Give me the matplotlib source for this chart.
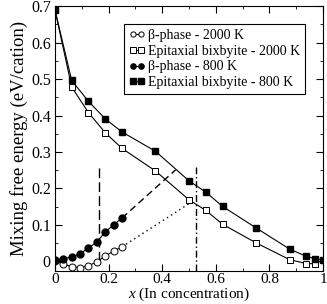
import matplotlib
matplotlib.use("Agg")
import matplotlib.pyplot as plt
from matplotlib.ticker import MultipleLocator

plt.rcParams['font.family'] = ['Liberation Serif', 'DejaVu Serif']
plt.rcParams['mathtext.fontset'] = 'custom'
plt.rcParams['mathtext.it'] = 'Liberation Serif:italic'
plt.rcParams['mathtext.rm'] = 'Liberation Serif'

# beta-phase, 2000 K (open circles)
x_beta = [0, 0.03125, 0.0625, 0.09375, 0.125, 0.15625, 0.1875, 0.21875, 0.25]
e_beta_2000 = [0.0, -0.006, -0.015, -0.017, -0.012, -0.001, 0.015, 0.028, 0.040]
# beta-phase, 800 K (filled circles)
e_beta_800 = [0.003, 0.008, 0.012, 0.021, 0.037, 0.053, 0.081, 0.100, 0.119]

# epitaxial bixbyite
x_bix = [0, 0.0625, 0.125, 0.1875, 0.25, 0.375, 0.5, 0.5625, 0.625, 0.75,
         0.875, 0.9375, 0.96875, 1.0]
e_bix_2000 = [0.69, 0.478, 0.408, 0.353, 0.310, 0.248, 0.169, 0.140, 0.102,
              0.051, 0.005, -0.006, -0.006, 0.004]
e_bix_800 = [0.69, 0.496, 0.439, 0.391, 0.355, 0.302, 0.221, 0.190, 0.151,
             0.092, 0.034, 0.014, 0.008, 0.004]

# common-tangent construction lines
tan_800_x = [0.25, 0.45]
tan_800_y = [0.119, 0.251]
tan_2000_x = [0.25, 0.51]
tan_2000_y = [0.040, 0.163]
vline_800 = 0.165
vline_2000 = 0.526
vline_top = 0.258

fig = plt.figure(figsize=(3.27, 3.04), dpi=100)
ax = fig.add_axes([0.168, 0.11, 0.820, 0.87])

ax.plot(tan_800_x, tan_800_y, color='black', lw=1, ls=(0, (5, 3)))
ax.plot(tan_2000_x, tan_2000_y, color='black', lw=1, ls=(0, (1, 2.5)))
ax.plot([vline_800, vline_800], [0, vline_top], color='black', lw=1,
        ls=(0, (7, 3)))
ax.plot([vline_2000, vline_2000], [-0.025, vline_top], color='black', lw=1,
        ls=(0, (5, 2, 1, 2)))

ms = 5
ax.plot(x_beta, e_beta_2000, color='black', lw=0.8, marker='o', ms=ms,
        mfc='white', mec='black', mew=0.7, label='\u03b2-phase - 2000 K')
ax.plot(x_bix, e_bix_2000, color='black', lw=0.8, marker='s', ms=ms,
        mfc='white', mec='black', mew=0.7, label='Epitaxial bixbyite - 2000 K')
ax.plot(x_beta, e_beta_800, color='black', lw=0.8, marker='o', ms=ms,
        mfc='black', mec='black', label='\u03b2-phase - 800 K')
ax.plot(x_bix, e_bix_800, color='black', lw=0.8, marker='s', ms=ms,
        mfc='black', mec='black', label='Epitaxial bixbyite - 800 K')

ax.set_xlim(0, 1)
ax.set_ylim(-0.025, 0.7)
ax.xaxis.set_minor_locator(MultipleLocator(0.1))
ax.yaxis.set_minor_locator(MultipleLocator(0.05))
ax.set_xticks([0, 0.2, 0.4, 0.6, 0.8, 1.0])
ax.set_xticklabels(['0', '0.2', '0.4', '0.6', '0.8', '1'])
ax.set_yticks([0, 0.1, 0.2, 0.3, 0.4, 0.5, 0.6, 0.7])
ax.set_yticklabels(['0', '0.1', '0.2', '0.3', '0.4', '0.5', '0.6', '0.7'])
ax.tick_params(which='both', direction='in', top=True, right=True,
               labelsize=11.5, pad=3)
ax.tick_params(axis='x', pad=1.5, labelsize=11)
ax.tick_params(which='major', length=5)
ax.tick_params(which='minor', length=2.5)

ax.set_xlabel('$x$ (In concentration)', fontsize=11, labelpad=0)
ax.set_ylabel('Mixing free energy (eV/cation)', fontsize=13.5, labelpad=2)

leg = ax.legend(loc='upper right', bbox_to_anchor=(0.933, 0.932), fontsize=10,
                numpoints=2, markerscale=0.75, handlelength=1.2,
                handletextpad=0.2, borderpad=0.35, labelspacing=0.2,
                borderaxespad=0, fancybox=False, framealpha=1,
                edgecolor='black')
leg.get_frame().set_linewidth(0.8)

fig.savefig('out.png', dpi=100)
